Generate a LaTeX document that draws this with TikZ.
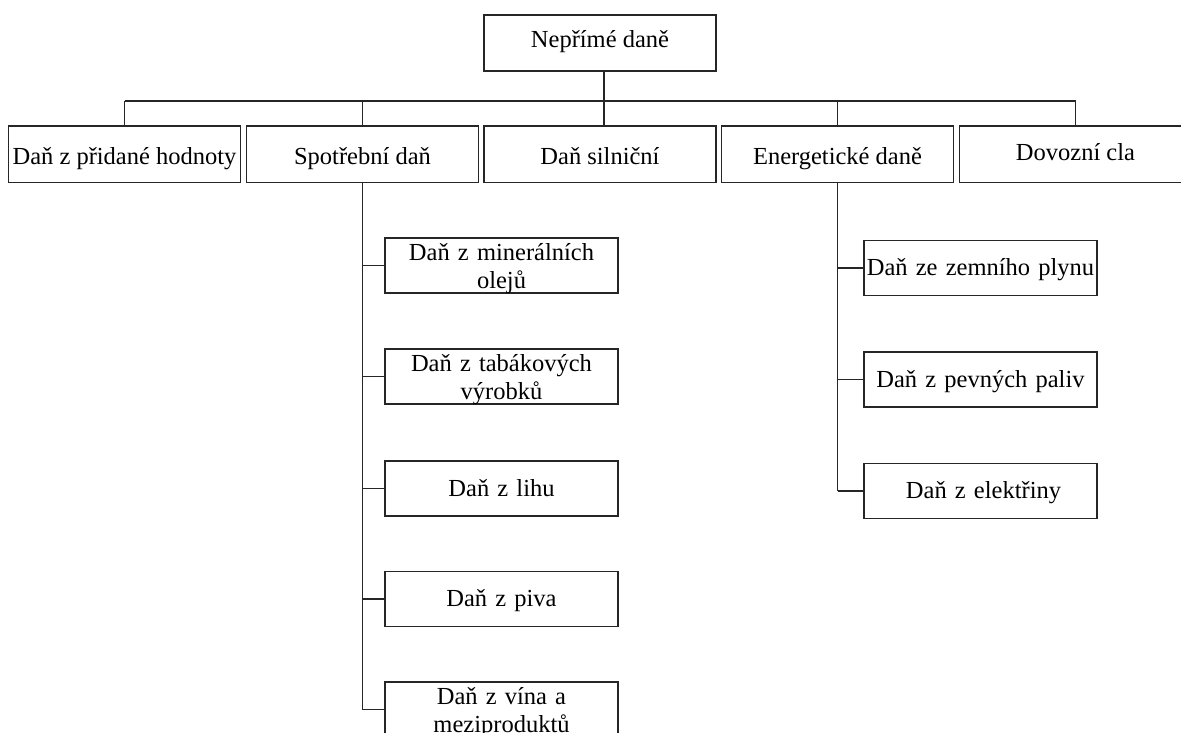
\documentclass[tikz,border=0pt]{standalone}
\usepackage{fontspec}
\setmainfont{Liberation Serif}
\begin{document}
\begin{tikzpicture}[x=1pt,y=-1pt,
  box/.style={draw=black!85,line width=1.3pt,rectangle,inner sep=0pt,align=center,
    font=\fontsize{24.5}{28}\selectfont},
  topbox/.style={box,minimum width=232pt,minimum height=56pt,text height=16pt,text depth=6.6pt},
  rowbox/.style={box,minimum width=232pt,minimum height=56.5pt,text height=22pt,text depth=2pt},
  subbox/.style={box,minimum width=233pt,minimum height=55pt,text width=228pt,text height=18pt,text depth=3pt},
  subbox2/.style={subbox,text height=18pt,text depth=29pt},
  link/.style={draw=black!85,line width=1.3pt}]
\useasboundingbox (0,0) rectangle (1181,733);
\clip (0,0) rectangle (1181,733);
\node[topbox] (top) at (600,43) {Nepřímé daně};
\node[rowbox] (r1) at (124.5,154.2) {Daň z přidané hodnoty};
\node[rowbox] (r2) at (362.5,154.2) {Spotřební daň};
\node[rowbox] (r3) at (600,154.2) {Daň silniční};
\node[rowbox] (r4) at (837.5,154.2) {Energetické daně};
\node[rowbox,text height=17pt,text depth=5pt] (r5) at (1075.5,154.2) {Dovozní cla};
\node[subbox2] (s1) at (501.5,265.5) {Daň z minerálních\\olejů};
\node[subbox2] (s2) at (501.5,376.5) {Daň z tabákových\\výrobků};
\node[subbox] (s3) at (501.5,488.5) {Daň z lihu};
\node[subbox] (s4) at (501.5,599) {Daň z piva};
\node[subbox2] (s5) at (501.5,709.5) {Daň z vína a\\meziproduktů};
\node[subbox] (e1) at (980.5,268) {Daň ze zemního plynu};
\node[subbox] (e2) at (980.5,379.5) {Daň z pevných paliv};
\node[subbox] (e3) at (980.5,491) {\hspace*{6pt}Daň z elektřiny};
\coordinate (bus) at (0,101);
\draw[link] ([xshift=4pt]top.south) -- ([xshift=4pt]r3.north);
\draw[link] (r1.north |- bus) -- (r5.north |- bus);
\foreach \n in {r1,r2,r4,r5} \draw[link] (\n.north) -- (\n.north |- bus);
\draw[link] (r2.south) -- (r2.south |- s5.west);
\foreach \n in {s1,s2,s3,s4,s5} \draw[link] (\n.west) -- (\n.west -| r2.south);
\draw[link] (r4.south) -- (r4.south |- e3.west);
\foreach \n in {e1,e2,e3} \draw[link] (\n.west) -- (\n.west -| r4.south);
\end{tikzpicture}
\end{document}
